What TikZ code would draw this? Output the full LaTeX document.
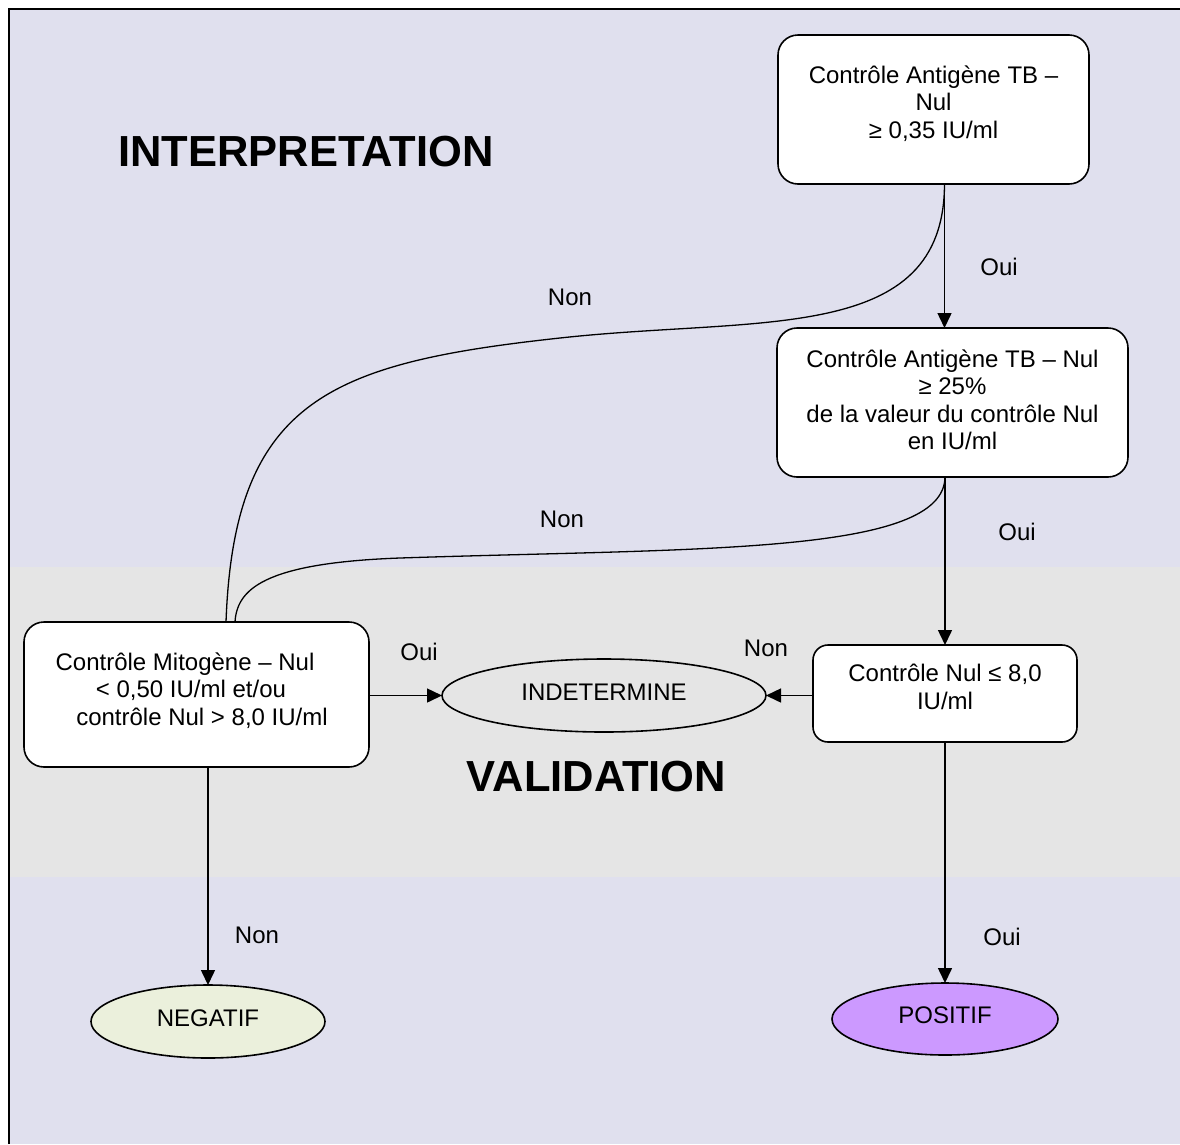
\documentclass[tikz,border=0pt]{standalone}
\usepackage{fontspec}
\setmainfont{Liberation Sans}
\usetikzlibrary{arrows.meta,shapes.geometric}
\definecolor{lav}{RGB}{224,224,238}
\definecolor{band}{RGB}{229,229,229}
\definecolor{negc}{RGB}{235,240,220}
\definecolor{posc}{RGB}{204,153,255}
\begin{document}
\begin{tikzpicture}[x=1pt,y=-1pt,
  box/.style={draw, line width=1.6pt, fill=white, rounded corners=20pt, outer sep=0pt, inner sep=0pt},
  txt/.style={align=center, font=\fontsize{24}{27.6}\selectfont, inner sep=0pt},
  lbl/.style={font=\fontsize{24}{27.6}\selectfont, inner sep=0pt},
  oval/.style={ellipse, draw, line width=1.6pt, outer sep=0pt, inner sep=0pt, font=\fontsize{24}{27.6}\selectfont, text height=17.2pt, text depth=8pt},
  arr/.style={line width=1.5pt, -{Triangle[length=15pt,width=14pt]}},
  con/.style={line width=1.3pt},
  title/.style={font=\fontsize{43.5}{50}\selectfont\bfseries, inner sep=0pt}]
\useasboundingbox (0,0) rectangle (1180,1144);
\fill[white] (0,0) rectangle (1180,1144);
\fill[lav] (9,9) rectangle (1180,1144);
\fill[band] (9,567) rectangle (1180,877);
\draw[line width=2pt] (9,1144) -- (9,9) -- (1180,9);

% boxes
\node[box, minimum width=311pt, minimum height=149pt] (b1) at (933.5,109.5) {};
\node[txt] (t1) at (933.5,103.3) {Contrôle Antigène TB –\\Nul\\≥ 0,35 IU/ml};
\node[box, minimum width=351pt, minimum height=149pt] (b2) at (952.5,402.5) {};
\node[txt] (t2) at (952.5,399.7) {Contrôle Antigène TB – Nul\\≥ 25\%\\de la valeur du contrôle Nul\\en IU/ml};
\node[box, minimum width=345pt, minimum height=145pt] (b3) at (196.5,694.5) {};
\node[txt] (t3) at (191,690.3) {Contrôle Mitogène – Nul\hspace*{12pt}\\< 0,50 IU/ml et/ou\hspace*{8pt}\\\hspace*{22pt}contrôle Nul > 8,0 IU/ml};
\node[box, rounded corners=15pt, minimum width=264pt, minimum height=97pt] (b4) at (945,693.5) {};
\node[txt] (t4) at (945,687) {Contrôle Nul ≤ 8,0\\IU/ml};

% ovals
\node[oval, fill=band, minimum width=324pt, minimum height=73pt] (ind) at (604,695.5) {INDETERMINE};
\node[oval, fill=negc, minimum width=234pt, minimum height=73pt] (neg) at (208,1021.5) {NEGATIF};
\node[oval, fill=posc, minimum width=226pt, minimum height=72pt] (pos) at (945,1019) {POSITIF};

% titles
\node[title] (ti) at (306,152) {INTERPRETATION};
\node[title] (tv) at (596.5,777) {VALIDATION};

% labels
\node[lbl] (l1) at (999,267) {Oui};
\node[lbl] (l2) at (570,297) {Non};
\node[lbl] (l3) at (562,519) {Non};
\node[lbl] (l4) at (1017,532) {Oui};
\node[lbl] (l5) at (419,652) {Oui};
\node[lbl] (l6) at (766,648) {Non};
\node[lbl] (l7) at (257,935) {Non};
\node[lbl] (l8) at (1002,937) {Oui};

% straight connectors
\draw[arr] ([xshift=11pt]b1.south) -- ([xshift=11pt]b1.south |- b2.north);
\draw[arr] (b2.south -| b4.north) -- (b4.north);
\draw[arr] (b4.west |- ind.east) -- (ind.east);
\draw[arr] (b3.east |- ind.west) -- (ind.west);
\draw[arr] (b3.south -| neg.north) -- (neg.north);
\draw[arr] (b4.south) -- (pos.north);

% curved connectors
\draw[con] ([xshift=11pt]b1.south) .. controls (944,345) and (760,316) .. (560,338)
  .. controls (330,363) and (234,400) .. ([xshift=29.5pt]b3.north);
\draw[con] (b2.south -| b4.north) .. controls (944,555) and (700,548) .. (400,558)
  .. controls (262,563) and (237,590) .. ([xshift=38.5pt]b3.north);
\end{tikzpicture}
\end{document}
